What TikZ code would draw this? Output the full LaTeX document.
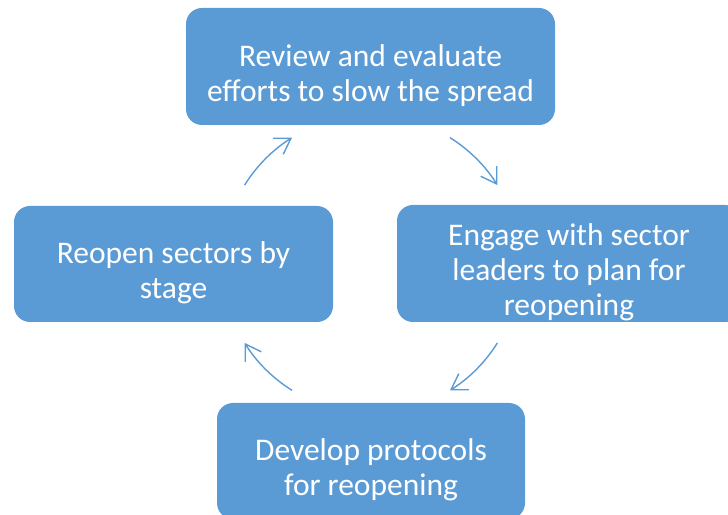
\documentclass[tikz,border=0pt]{standalone}
\usepackage{fontspec}
\setmainfont{Carlito}
\usetikzlibrary{arrows.meta}
\definecolor{phaseblue}{HTML}{5B9BD5}
\begin{document}
\begin{tikzpicture}[x=1pt,y=1pt,
    phase/.style={fill=phaseblue, rounded corners=16pt, inner sep=0pt},
    phasetext/.style={text=white, align=center, yshift=-9pt,
      font=\fontsize{31.5}{35}\selectfont, inner sep=0pt},
    cycle/.style={draw=phaseblue, line width=1.4pt,
      -{Straight Barb[length=15pt,width=19pt]}}]
  \useasboundingbox (0,0) rectangle (728,514);
  \clip (0,0) rectangle (728,514);
  \path
    (370.5,447.5) node[phase, minimum width=369pt, minimum height=117pt] (review) {}
    (569,250.5) node[phase, minimum width=344pt, minimum height=117pt] (engage) {}
    (371,53) node[phase, minimum width=308pt, minimum height=116pt] (develop) {}
    (173.5,250) node[phase, minimum width=319pt, minimum height=116pt] (reopen) {};
  \path
    (review) node[phasetext] (review text) {Review and evaluate\\efforts to slow the spread}
    (engage) node[phasetext] (engage text) {Engage with sector\\leaders to plan for\\reopening}
    (develop) node[phasetext] (develop text) {Develop protocols\\for reopening}
    (reopen) node[phasetext] (reopen text) {Reopen sectors by\\stage};
  \coordinate (hub) at (371,250);
  \begin{scope}[cycle]
    \draw ([shift={(58:149)}]hub) arc[start angle=58, end angle=32, radius=149];
    \draw ([shift={(-32:149)}]hub) arc[start angle=-32, end angle=-58, radius=149];
    \draw ([shift={(-122:149)}]hub) arc[start angle=-122, end angle=-148, radius=149];
    \draw ([shift={(148:149)}]hub) arc[start angle=148, end angle=122, radius=149];
  \end{scope}
\end{tikzpicture}
\end{document}
